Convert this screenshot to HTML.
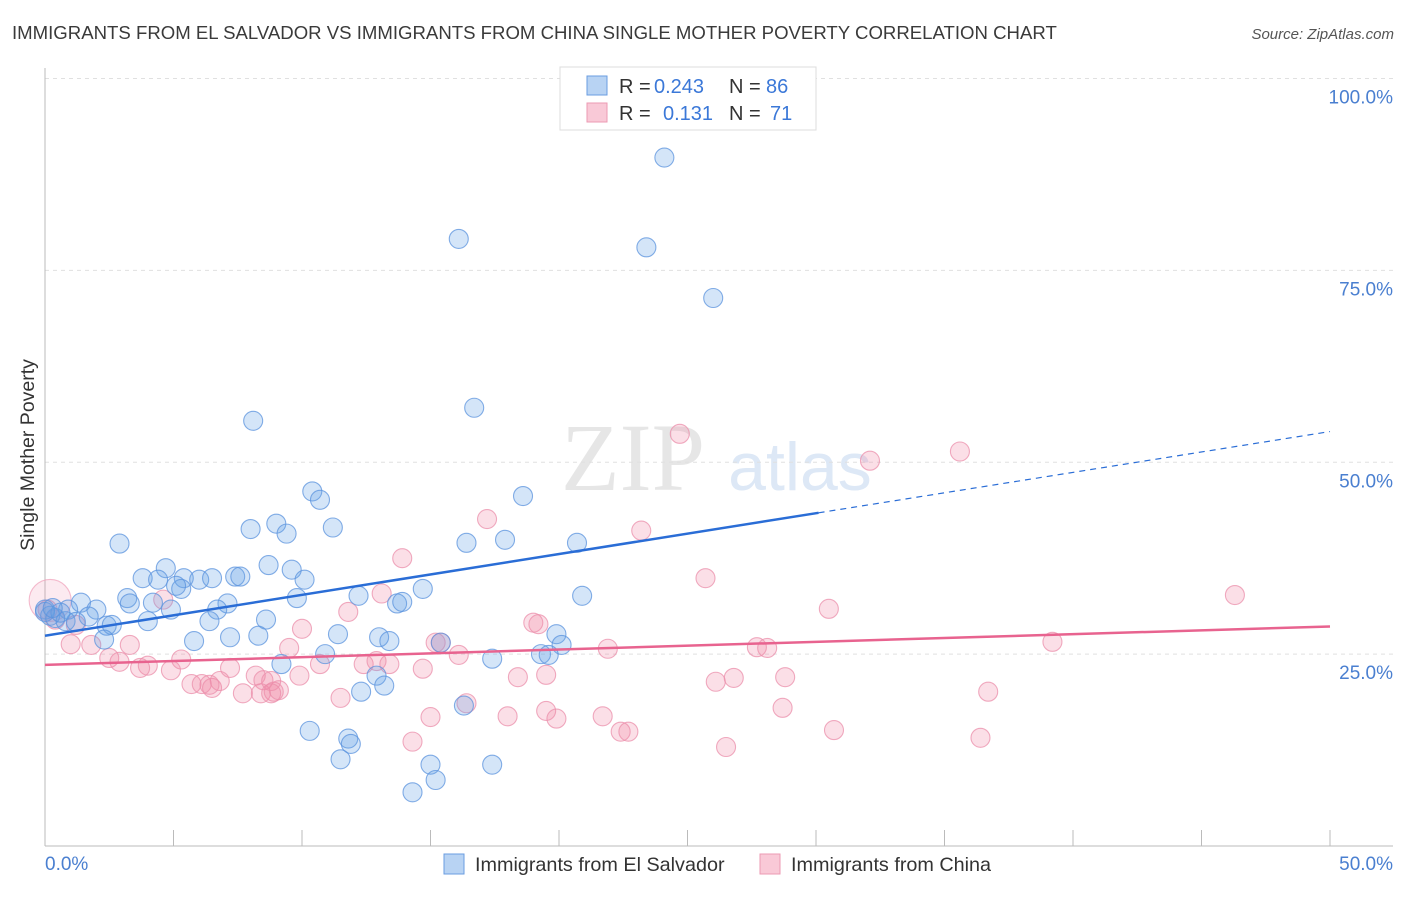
<!DOCTYPE html>
<html><head><meta charset="utf-8"><style>
body{margin:0;background:#fff;font-family:"Liberation Sans",sans-serif;}
</style></head><body>
<svg id="chart" width="1406" height="892" xmlns="http://www.w3.org/2000/svg">
<text x="12" y="39" font-size="18.6" fill="#3a3a3a">IMMIGRANTS FROM EL SALVADOR VS IMMIGRANTS FROM CHINA SINGLE MOTHER POVERTY CORRELATION CHART</text>
<text x="1394" y="39" font-size="15" fill="#555" font-style="italic" text-anchor="end">Source: ZipAtlas.com</text>
<g>
<text x="633" y="490" font-size="96" font-family="Liberation Serif,serif" fill="#e6e6e6" text-anchor="middle">ZIP</text>
<text x="800" y="490" font-size="68" fill="#dde8f6" text-anchor="middle">atlas</text>
</g>
<g id="grid"></g>
<g id="axes"></g>
<g id="pts"></g>
<g id="lines"></g>
<text transform="translate(34,455) rotate(-90)" font-size="19.5" fill="#333" text-anchor="middle">Single Mother Poverty</text>
<text x="45" y="870" font-size="19" fill="#4a7fd0">0.0%</text>
<text x="1393" y="870" font-size="19" fill="#4a7fd0" text-anchor="end">50.0%</text>
<g>
<rect x="560" y="67" width="256" height="63" fill="#fff" stroke="#ddd"/>
<rect x="587" y="76" width="20" height="19" fill="#b8d3f3" stroke="#6a9de0"/>
<rect x="587" y="103" width="20" height="19" fill="#f9c9d7" stroke="#ec9ab3"/>
<text x="619" y="93" font-size="20" fill="#333">R =</text>
<text x="654" y="93" font-size="20" fill="#3b78d8">0.243</text>
<text x="729" y="93" font-size="20" fill="#333">N =</text>
<text x="766" y="93" font-size="20" fill="#3b78d8">86</text>
<text x="619" y="120" font-size="20" fill="#333">R =</text>
<text x="663" y="120" font-size="20" fill="#3b78d8">0.131</text>
<text x="729" y="120" font-size="20" fill="#333">N =</text>
<text x="770" y="120" font-size="20" fill="#3b78d8">71</text>
</g>
<g>
<rect x="444" y="854" width="20" height="20" fill="#b8d3f3" stroke="#6a9de0"/>
<text x="475" y="871" font-size="19.8" fill="#333">Immigrants from El Salvador</text>
<rect x="760" y="854" width="20" height="20" fill="#f9c9d7" stroke="#ec9ab3"/>
<text x="791" y="871" font-size="19.8" fill="#333">Immigrants from China</text>
</g>
</svg>
<script>
const yTicks=[25,50,75,100];
const yTickLabels=["25.0%","50.0%","75.0%","100.0%"];
const xTicks=[0,5,10,15,20,25,30,35,40,45,50];
const blueX=[24.1,16.1,23.4,26.0,16.7,8.1,10.4,10.7,18.6,2.9,8.0,9.0,9.4,11.2,16.4,17.9,20.7,8.7,9.6,10.1,4.7,3.8,4.4,5.4,6.0,6.5,7.4,7.6,5.3,5.1,3.2,3.3,4.2,4.9,7.1,6.7,9.8,12.2,13.7,13.9,14.7,20.9,1.4,2.0,0.9,1.7,2.4,2.6,4.0,6.4,8.6,0.0,0.2,0.4,0.8,1.2,11.4,13.0,13.4,19.9,20.1,15.4,19.3,19.6,17.4,10.9,7.2,5.8,8.3,2.3,9.2,12.9,13.2,12.3,16.3,10.3,11.8,11.9,11.5,15.0,17.4,15.2,14.3,0.0,0.6,0.3];
const blueY=[89.7,79.1,78.0,71.4,57.1,55.4,46.2,45.1,45.6,39.4,41.3,42.0,40.7,41.5,39.5,39.9,39.5,36.6,36.0,34.7,36.2,34.9,34.7,34.9,34.7,34.9,35.1,35.1,33.5,33.9,32.3,31.6,31.7,30.8,31.6,30.8,32.3,32.6,31.6,31.8,33.5,32.6,31.7,30.8,30.8,29.9,28.7,28.8,29.3,29.3,29.5,30.8,30.0,29.7,29.3,29.2,27.6,27.2,26.7,27.6,26.2,26.5,25.0,24.9,24.4,25.0,27.2,26.7,27.4,26.9,23.7,22.2,20.9,20.1,18.3,15.0,14.0,13.3,11.3,10.6,10.6,8.6,7.0,30.5,30.4,31.0];
const pinkX=[24.7,32.1,35.6,17.2,23.2,13.9,25.7,46.3,30.5,13.1,11.8,4.6,10.0,19.0,19.2,15.4,27.7,28.1,21.9,39.2,3.3,9.5,1.0,1.8,2.5,2.9,4.0,3.7,5.3,4.9,7.2,8.2,8.5,8.4,8.9,8.8,9.9,10.7,12.4,12.9,13.4,16.1,14.7,18.4,19.5,15.2,16.4,5.7,6.1,6.5,6.8,7.7,8.8,9.1,11.5,6.4,26.1,26.8,28.8,36.7,15.0,18.0,19.5,19.9,21.7,22.4,22.7,26.5,28.7,30.7,36.4,14.3,0.1,0.4,1.2];
const pinkY=[53.7,50.2,51.4,42.6,41.1,37.5,34.9,32.7,30.9,32.9,30.5,32.1,28.3,29.1,28.9,26.5,25.9,25.8,25.7,26.6,26.2,25.8,26.3,26.2,24.5,24.0,23.5,23.2,24.3,22.9,23.2,22.2,21.6,19.9,20.1,21.5,22.2,23.7,23.7,24.1,23.7,24.9,23.1,22.0,22.3,26.5,18.6,21.1,21.1,20.6,21.5,19.9,19.9,20.3,19.3,21.0,21.4,21.9,22.0,20.1,16.8,16.9,17.6,16.6,16.9,14.9,14.9,12.9,18.0,15.1,14.1,13.6,30.8,29.5,28.8];
const bigPinkX=[0.2], bigPinkY=[32.0];
const blueTrend=[27.4,54.0], blueSolidEnd=30.1;
const pinkTrend=[23.6,28.6];
const NS="http://www.w3.org/2000/svg";
const sx=v=>45+v*25.7, sy=v=>846-v*7.675;
function mk(tag,attrs,parent){const e=document.createElementNS(NS,tag);for(const k in attrs)e.setAttribute(k,attrs[k]);parent.appendChild(e);return e;}
const grid=document.getElementById('grid'),axes=document.getElementById('axes'),pts=document.getElementById('pts'),lines=document.getElementById('lines');
yTicks.forEach((t,i)=>{
 const l=mk('line',{x1:45,x2:1393,y1:sy(t),y2:sy(t),stroke:'#e0e0e0','stroke-dasharray':'4,4'},grid);
 
 
 const tx=mk('text',{x:1393,y:sy(t)+25,'font-size':19,fill:'#4a7fd0','text-anchor':'end'},axes);
 tx.textContent=yTickLabels[i];
 
 
});
const ya=mk('line',{x1:45,x2:45,y1:68,y2:846,stroke:'#bbb'},axes);


const xa=mk('line',{x1:45,x2:1393,y1:846,y2:846,stroke:'#bbb'},axes);


xTicks.forEach(t=>{const l=mk('line',{x1:sx(t),x2:sx(t),y1:830,y2:846,stroke:'#bbb'},axes);
 
 });
function dots(X,Y,fill,stroke,name,r){X.forEach((x,i)=>{const c=mk('circle',{cx:sx(x),cy:sy(Y[i]),r:r,fill:fill,stroke:stroke,'stroke-width':1.1,'stroke-opacity':0.75},pts);
 
 });}
dots(bigPinkX,bigPinkY,'rgba(240,140,170,0.18)','#f0a5bd','point-china-large',21);
dots(pinkX,pinkY,'rgba(240,140,170,0.28)','#eb8fab','point-china',9.5);
dots(blueX,blueY,'rgba(100,160,230,0.28)','#5b93dd','point-el-salvador',9.5);
const by=x=>blueTrend[0]+(blueTrend[1]-blueTrend[0])*x/50;
const b1=mk('line',{x1:sx(0),y1:sy(by(0)),x2:sx(blueSolidEnd),y2:sy(by(blueSolidEnd)),stroke:'#2a6dd6','stroke-width':2.5},lines);


const b2=mk('line',{x1:sx(blueSolidEnd),y1:sy(by(blueSolidEnd)),x2:sx(50),y2:sy(by(50)),stroke:'#2a6dd6','stroke-width':1.2,'stroke-dasharray':'6,5'},lines);


const p1=mk('line',{x1:sx(0),y1:sy(pinkTrend[0]),x2:sx(50),y2:sy(pinkTrend[1]),stroke:'#e8638f','stroke-width':2.5},lines);


</script>
</body></html>
